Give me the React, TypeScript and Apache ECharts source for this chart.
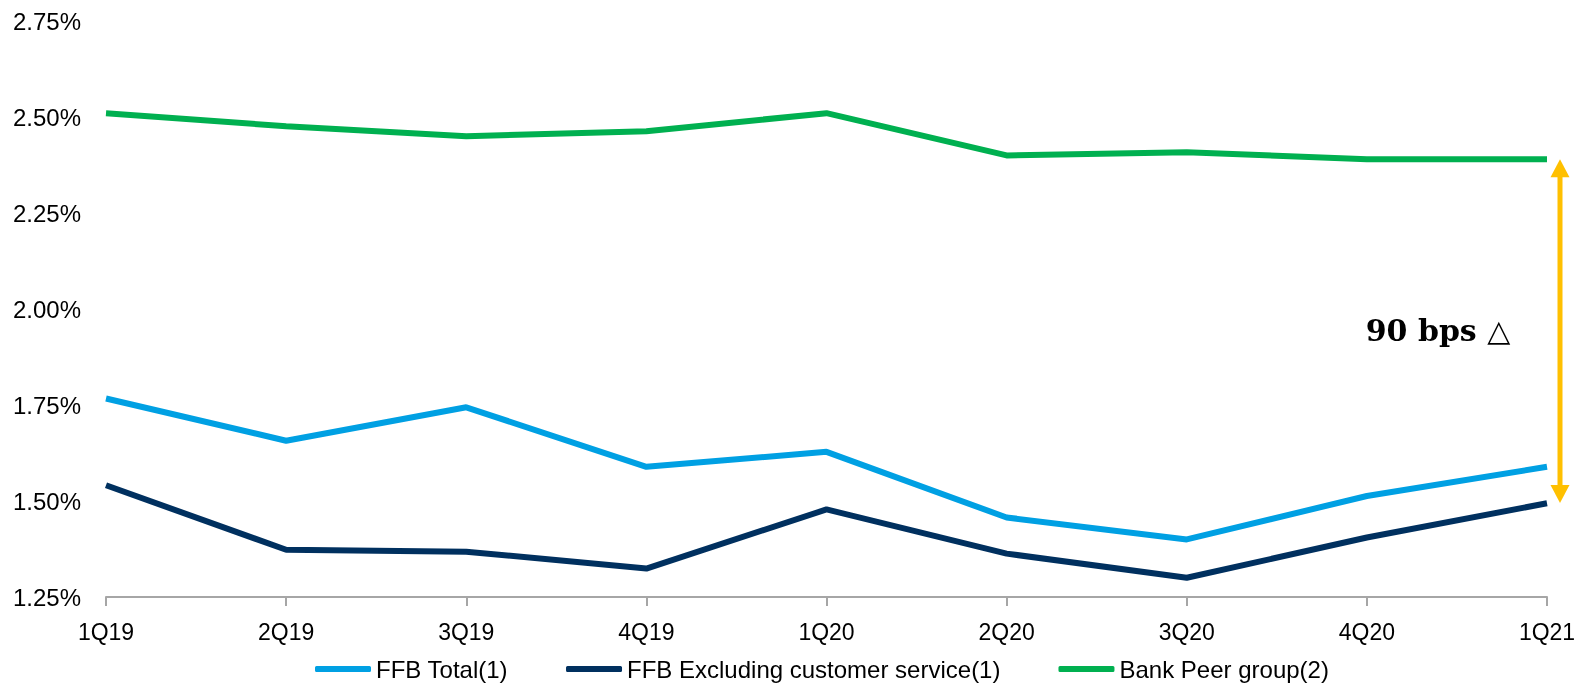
import React, { useEffect, useRef } from "react";
import * as echarts from "echarts";

const categories = ["1Q19", "2Q19", "3Q19", "4Q19", "1Q20", "2Q20", "3Q20", "4Q20", "1Q21"];
const ffbTotal = [1.767, 1.657, 1.744, 1.589, 1.628, 1.457, 1.40, 1.513, 1.589];
const ffbExcl = [1.541, 1.373, 1.368, 1.324, 1.478, 1.363, 1.30, 1.405, 1.494];
const bankPeer = [2.51, 2.476, 2.45, 2.463, 2.51, 2.40, 2.408, 2.39, 2.39];
const seriesNames = ["FFB Total(1)", "FFB Excluding customer service(1)", "Bank Peer group(2)"];
const colors = ["#00A0E3", "#00305F", "#00B050"];
const annotationText = "90 bps \u25B3";
const arrowFrom = 2.39;
const arrowTo = 1.495;
const annotationY = 1.945;

export default function App() {
  const ref = useRef<HTMLDivElement>(null);
  useEffect(() => {
    if (!ref.current) return;
    const chart = echarts.init(ref.current, null, { renderer: "svg" });
    const series = [ffbTotal, ffbExcl, bankPeer].map((d, i) => ({
      name: seriesNames[i],
      type: "line",
      data: d,
      symbol: "none",
      color: colors[i],
      lineStyle: { width: 6, color: colors[i] },
    }));
    chart.setOption({
      animation: false,
      grid: { left: 106, right: 36, top: 21, bottom: 88 },
      legend: {
        top: 652,
        left: 310,
        icon: "roundRect",
        itemWidth: 56,
        itemHeight: 6,
        itemGap: 58,
        textStyle: { fontFamily: "Liberation Sans", fontSize: 24, color: "#000" },
        data: seriesNames,
      },
      xAxis: {
        type: "category",
        data: categories,
        boundaryGap: false,
        axisLine: { lineStyle: { color: "#A6A6A6", width: 2 } },
        axisTick: { show: true, length: 9, lineStyle: { color: "#A6A6A6", width: 2 } },
        axisLabel: { fontFamily: "Liberation Sans", fontSize: 23, color: "#000", margin: 23 },
      },
      yAxis: {
        type: "value",
        min: 1.25,
        max: 2.75,
        interval: 0.25,
        axisLine: { show: false },
        axisTick: { show: false },
        splitLine: { show: false },
        axisLabel: {
          fontFamily: "Liberation Sans",
          fontSize: 24,
          color: "#000",
          margin: 25,
          formatter: (v: number) => v.toFixed(2) + "%",
        },
      },
      series,
    });
    const last = categories.length - 1;
    const top = chart.convertToPixel({ gridIndex: 0 }, [last, arrowFrom]) as number[];
    const bot = chart.convertToPixel({ gridIndex: 0 }, [last, arrowTo]) as number[];
    const mid = chart.convertToPixel({ gridIndex: 0 }, [last, annotationY]) as number[];
    const ax = top[0] + 13;
    const orange = "#FFC000";
    const head = 18;
    chart.setOption({
      graphic: [
        {
          type: "line",
          shape: { x1: ax, y1: top[1] + head - 2, x2: ax, y2: bot[1] - head + 2 },
          style: { stroke: orange, lineWidth: 5 },
        },
        {
          type: "polygon",
          shape: { points: [[ax, top[1]], [ax - 9.5, top[1] + head], [ax + 9.5, top[1] + head]] },
          style: { fill: orange },
        },
        {
          type: "polygon",
          shape: { points: [[ax, bot[1]], [ax - 9.5, bot[1] - head], [ax + 9.5, bot[1] - head]] },
          style: { fill: orange },
        },
        {
          type: "text",
          x: mid[0] - 109,
          y: mid[1],
          style: {
            text: annotationText,
            fontFamily: "DejaVu Serif",
            fontWeight: "bold",
            fontSize: 30,
            fill: "#000",
            align: "center",
            verticalAlign: "middle",
          },
        },
      ],
    });
    return () => chart.dispose();
  }, []);
  return <div ref={ref} style={{ position: "fixed", left: 0, top: 0, width: 1583, height: 685 }} />;
}
